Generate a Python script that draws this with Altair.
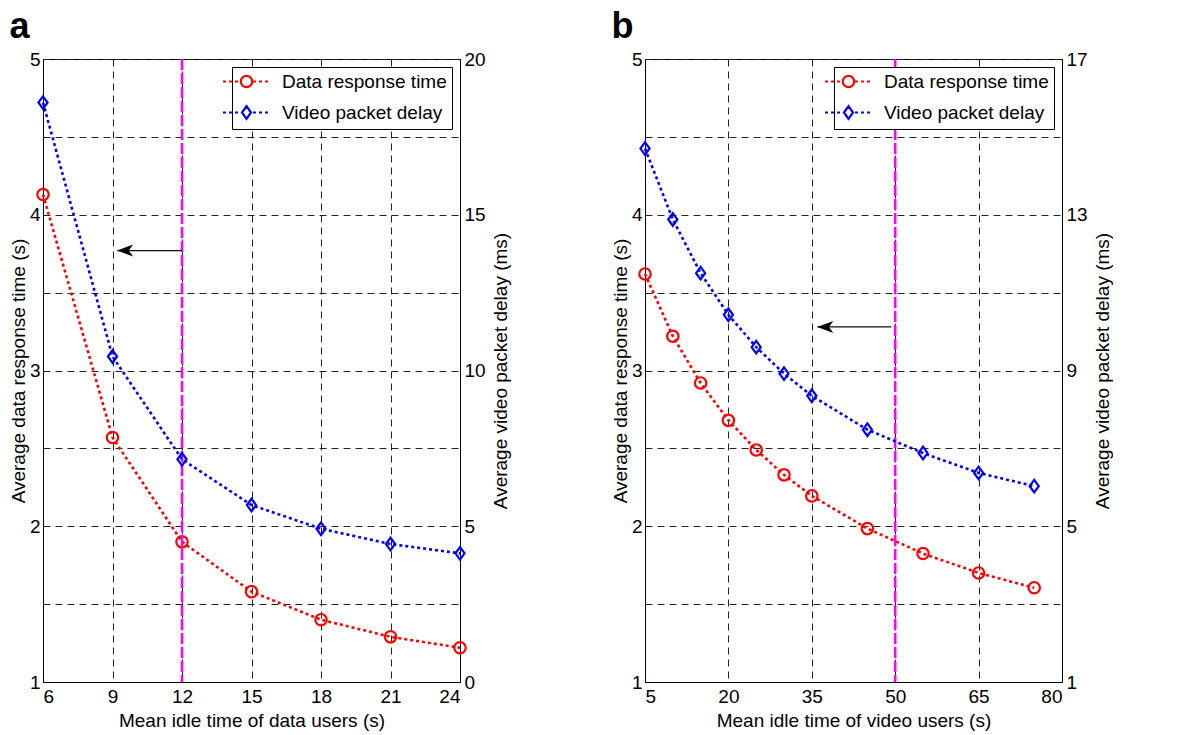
import altair as alt
import pandas as pd

# ---------------- data ----------------
series_names = ["Data response time", "Video packet delay"]

a_x = [6, 9, 12, 15, 18, 21, 24]
a_red = [4.13, 2.57, 1.90, 1.58, 1.40, 1.29, 1.22]
a_blue = [18.6, 10.45, 7.15, 5.68, 4.92, 4.43, 4.13]
a_xticks = [6, 9, 12, 15, 18, 21, 24]
a_rticks = [0, 5, 10, 15, 20]
a_vline = 12
a_arrow = [12, 9.2, 3.77]  # from x, to x, at y (left axis)

b_x = [5, 10, 15, 20, 25, 30, 35, 45, 55, 65, 75]
b_red = [3.62, 3.22, 2.92, 2.68, 2.49, 2.33, 2.195, 1.985, 1.825, 1.70, 1.605]
b_blue = [14.7, 12.88, 11.5, 10.43, 9.6, 8.92, 8.35, 7.48, 6.88, 6.37, 6.03]
b_xticks = [5, 20, 35, 50, 65, 80]
b_rticks = [1, 5, 9, 13, 17]
b_vline = 50
b_arrow = [49.3, 36.0, 3.28]

left_ticks = [1, 1.5, 2, 2.5, 3, 3.5, 4, 4.5, 5]

FONT = "Liberation Sans"
RED = "#ff0000"
BLUE = "#0000ff"

DIAMOND = "M0,-1L0.72,0L0,1L-0.72,0Z"
ARROWHEAD = "M-1,0L1,-0.75L0.45,0L1,0.75Z"


def legend_path(marker):
    u = 6.0
    half = 23.5 / u
    r = 0.95
    segs = []
    pos = -half
    step = 3.0 / u
    while pos < half:
        end = min(pos + step, half)
        if end < -r or pos > r:
            segs.append(f"M{pos:.3f},0L{end:.3f},0")
        pos += 2 * step
    if marker == "circle":
        rr = 0.95
        segs.append(f"M{-rr},0A{rr},{rr} 0 1,0 {rr},0A{rr},{rr} 0 1,0 {-rr},0Z")
    else:
        segs.append("M0,-1.05L0.75,0L0,1.05L-0.75,0Z")
    return "".join(segs)


def panel(xs, red, blue, xticks, rticks, vline, arrow, xtitle, label):
    red_df = pd.DataFrame({"x": xs, "y": red})
    blue_df = pd.DataFrame({"x": xs, "y": blue})
    leg_df = pd.DataFrame({"series": series_names, "x": [xs[0], xs[0]], "y": [red[0], red[0]]})
    arrow_df = pd.DataFrame({"x": [arrow[0]], "x2": [arrow[1]], "y": [arrow[2]]})
    vline_df = pd.DataFrame({"x": [vline]})

    xdom = [xticks[0], xticks[-1]]
    X = alt.X("x:Q", scale=alt.Scale(domain=xdom, nice=False, zero=False),
              axis=alt.Axis(values=xticks, title=xtitle, grid=True, gridDash=[7, 5],
                            gridColor="#222", ticks=False, labelPadding=5, titlePadding=5))
    YL = alt.Y("y:Q", scale=alt.Scale(domain=[1, 5], nice=False, zero=False),
               axis=alt.Axis(values=left_ticks, title="Average data response time (s)",
                             labelExpr="datum.value % 1 == 0 ? format(datum.value, 'd') : ''",
                             grid=True, gridDash=[7, 5], gridColor="#222", ticks=False,
                             labelPadding=3, titlePadding=1))
    YR = alt.Y("y:Q", scale=alt.Scale(domain=[rticks[0], rticks[-1]], nice=False, zero=False),
               axis=alt.Axis(values=rticks, orient="right", title="Average video packet delay (ms)",
                             grid=False, ticks=False, labelPadding=4, titlePadding=6,
                             titleAngle=270, titleBaseline="top"))

    red_line = alt.Chart(red_df).mark_line(color=RED, strokeWidth=2.6, strokeDash=[3, 3]).encode(x=X, y=YL)
    red_pts = alt.Chart(red_df).mark_point(shape="circle", filled=False, color=RED, size=130,
                                           strokeWidth=2.2, opacity=1).encode(x=X, y=YL)
    vrule = alt.Chart(vline_df).mark_rule(color="#ff00ff", strokeWidth=2.5, strokeDash=[11, 3]).encode(
        x=alt.X("x:Q"))
    arule = alt.Chart(arrow_df).mark_rule(color="#111", strokeWidth=1.3).encode(
        x=alt.X("x:Q"), x2="x2:Q", y=alt.Y("y:Q"))
    ahead = alt.Chart(arrow_df).mark_point(shape=ARROWHEAD, filled=True, color="black", size=256,
                                           opacity=1, xOffset=8).encode(x=alt.X("x2:Q"), y=alt.Y("y:Q"))
    leg = alt.Chart(leg_df).mark_point(filled=False, opacity=0).encode(
        x=X, y=YL,
        color=alt.Color("series:N", scale=alt.Scale(domain=series_names, range=[RED, BLUE]),
                        legend=alt.Legend(title=None, orient="top-right", offset=8,
                                          strokeColor="black", fillColor="white", padding=5,
                                          symbolSize=144, symbolStrokeWidth=2.2, symbolOpacity=1,
                                          labelFontSize=19, labelFont=FONT, labelOffset=26,
                                          labelLimit=400, rowPadding=9, cornerRadius=0)),
        shape=alt.Shape("series:N", scale=alt.Scale(domain=series_names,
                                                    range=[legend_path("circle"), legend_path("diamond")]),
                        legend=alt.Legend(title=None, orient="top-right")),
    )
    left = alt.layer(red_line, red_pts, vrule, arule, ahead, leg)

    blue_line = alt.Chart(blue_df).mark_line(color=BLUE, strokeWidth=2.6, strokeDash=[3, 3]).encode(x=X, y=YR)
    blue_pts = alt.Chart(blue_df).mark_point(shape=DIAMOND, filled=False, color=BLUE, size=160,
                                             strokeWidth=2.2, opacity=1).encode(x=X, y=YR)
    right = alt.layer(blue_line, blue_pts)

    return alt.layer(left, right).resolve_scale(y="independent").properties(
        width=417, height=623,
        title=alt.TitleParams(label, anchor="start", fontSize=36, fontWeight="bold", font=FONT,
                              frame="bounds", offset=4, color="black", baseline="top"))


pa = panel(a_x, a_red, a_blue, a_xticks, a_rticks, a_vline, a_arrow, "Mean idle time of data users (s)", "a")
pb = panel(b_x, b_red, b_blue, b_xticks, b_rticks, b_vline, b_arrow, "Mean idle time of video users (s)", "b")

chart = alt.hconcat(pa, pb, spacing=99).resolve_scale(
    color="independent", shape="independent", x="independent", y="independent"
).resolve_legend(color="independent", shape="independent").properties(
    padding=0, background="white"
).configure_view(
    stroke="black", strokeWidth=1
).configure_axis(
    labelFont=FONT, titleFont=FONT, labelFontSize=19, titleFontSize=19, titleFontWeight="normal",
    labelColor="black", titleColor="black", domainColor="black", domainWidth=1
)

chart.save("out.html", embed_options={"renderer": "svg", "actions": False})
